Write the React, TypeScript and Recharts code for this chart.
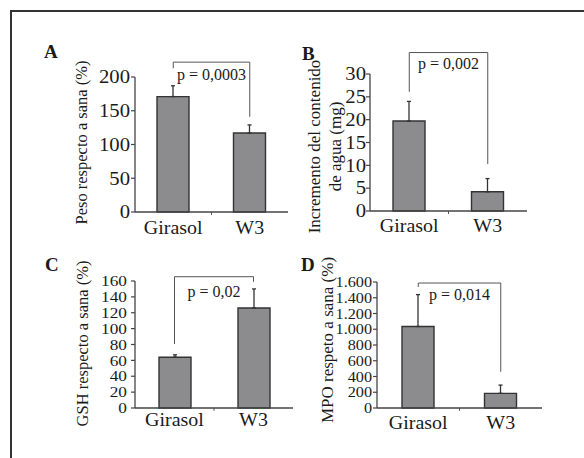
import React from 'react';
import { BarChart, Bar, XAxis, YAxis, ErrorBar, ReferenceLine, Label } from 'recharts';

const categories = ['Girasol', 'W3'];

// A - peso
const pesoMean = [171, 117];
const pesoErr = [16, 12];
const pesoTicks = [0, 50, 100, 150, 200];
const pesoBracket = [213, 222, 141];

// B - agua
const aguaMean = [19.7, 4.2];
const aguaErr = [4.3, 2.9];
const aguaTicks = [0, 5, 10, 15, 20, 25, 30];
const aguaBracket = [26.1, 34.7, 10.3];

// C - GSH
const gshMean = [64, 126];
const gshErr = [3, 24];
const gshTicks = [0, 20, 40, 60, 80, 100, 120, 140, 160];
const gshBracket = [80.6, 165.4, 159];

// D - MPO
const mpoMean = [1035, 186];
const mpoErr = [405, 105];
const mpoTicks = [0, 200, 400, 600, 800, 1000, 1200, 1400, 1600];
const mpoBracket = [1537, 1587, 460];

const pValues = ['p = 0,0003', 'p = 0,002', 'p = 0,02', 'p = 0,014'];

const FONT = '"Liberation Serif", "Times New Roman", serif';
const INK = '#1a1a1a';
const AXIS = '#444';

const thousands = (v: number) =>
  v >= 1000 ? `${Math.floor(v / 1000)}.${String(v % 1000).padStart(3, '0')}` : String(v);

function StretchText({ x, y, text, size, sx, anchor, dy }: any) {
  return (
    <text
      x={x}
      y={y}
      dy={dy}
      textAnchor={anchor}
      fontSize={size}
      fontFamily={FONT}
      fill={INK}
      transform={`translate(${x} ${y}) scale(${sx} 1) translate(${-x} ${-y})`}
    >
      {text}
    </text>
  );
}

function Panel(props: any) {
  const { box, margin, mean, err, ticks, bracket, pLabel, pOffset, yLabels, yLabelSize,
    yFont, ySx, yMargin, catMargin, fmt } = props;
  const data = categories.map((name, i) => ({ name, value: mean[i], err: [0, err[i]] }));
  const yMax = ticks[ticks.length - 1];
  const drop = yMax * 0.022;
  const lineStyle = { stroke: '#555', strokeWidth: 1 };

  return (
    <div style={{ position: 'absolute', left: box.left, top: box.top }}>
      <BarChart width={box.width} height={box.height} data={data} margin={margin}>
        <XAxis
          dataKey="name"
          height={30}
          interval={0}
          tickLine={false}
          tickSize={0}
          tickMargin={catMargin}
          axisLine={{ stroke: AXIS, strokeWidth: 1.3 }}
          tick={(p: any) => (
            <StretchText x={p.x} y={p.y} text={p.payload.value} size={18.5} sx={1.08} anchor="middle" dy="0.71em" />
          )}
        />
        <YAxis
          type="number"
          width={60}
          domain={[0, yMax]}
          ticks={ticks}
          interval={0}
          tickSize={4}
          tickMargin={yMargin}
          axisLine={{ stroke: AXIS, strokeWidth: 1.3 }}
          tickLine={{ stroke: AXIS, strokeWidth: 1.2 }}
          tick={(p: any) => (
            <StretchText x={p.x} y={p.y} text={fmt ? fmt(p.payload.value) : p.payload.value}
              size={yFont} sx={ySx} anchor="end" dy="0.35em" />
          )}
        >
          {yLabels.map((l: any) => (
            <Label key={l.text} value={l.text} angle={-90} position="center" dx={l.dx} dy={l.dy}
              fontSize={yLabelSize} fontFamily={FONT} fill={INK} />
          ))}
        </YAxis>
        <Bar dataKey="value" fill="#8c8c8e" stroke="#333" strokeWidth={1.4} barSize={32}
          isAnimationActive={false}>
          <ErrorBar dataKey="err" direction="y" width={2} stroke="#333" strokeWidth={1.3} />
        </Bar>
        <ReferenceLine ifOverflow="visible" {...lineStyle}
          segment={[{ x: 'W3', y: 0 }, { x: 'W3', y: -drop }]} position="start" />
        <ReferenceLine ifOverflow="visible" {...lineStyle}
          segment={[{ x: 'Girasol', y: bracket[0] }, { x: 'Girasol', y: bracket[1] }]} />
        <ReferenceLine ifOverflow="visible" {...lineStyle}
          segment={[{ x: 'Girasol', y: bracket[1] }, { x: 'W3', y: bracket[1] }]}>
          <Label value={pLabel} position="bottom" offset={pOffset} fontSize={16} fontFamily={FONT} fill={INK} />
        </ReferenceLine>
        <ReferenceLine ifOverflow="visible" {...lineStyle}
          segment={[{ x: 'W3', y: bracket[1] }, { x: 'W3', y: bracket[2] }]} />
      </BarChart>
    </div>
  );
}

export default function App() {
  return (
    <div style={{ position: 'absolute', left: 0, top: 0, width: 584, height: 458, background: '#fff', overflow: 'hidden' }}>
      <div style={{ position: 'absolute', left: 10, top: 10, right: 0, bottom: 0,
        borderTop: '2px solid #333', borderLeft: '2px solid #333' }} />
      <svg width={584} height={458} style={{ position: 'absolute', left: 0, top: 0 }}>
        <g fontFamily={FONT} fontWeight="bold" fontSize={19} fill={INK}>
          <text x={44} y={58}>A</text>
          <text x={302} y={60}>B</text>
          <text x={45} y={271}>C</text>
          <text x={301} y={271}>D</text>
        </g>
      </svg>
      <Panel
        box={{ left: 0, top: 20, width: 300, height: 230 }}
        margin={{ top: 57, right: 12, bottom: 8, left: 75 }}
        mean={pesoMean} err={pesoErr} ticks={pesoTicks} bracket={pesoBracket}
        pLabel={pValues[0]} pOffset={6}
        yLabels={[{ text: 'Peso respecto a sana (%)', dx: -24, dy: -2 }]} yLabelSize={16.5}
        yFont={18} ySx={1.15} yMargin={1} catMargin={9}
      />
      <Panel
        box={{ left: 292, top: 20, width: 292, height: 230 }}
        margin={{ top: 54, right: 57, bottom: 9, left: 18 }}
        mean={aguaMean} err={aguaErr} ticks={aguaTicks} bracket={aguaBracket}
        pLabel={pValues[1]} pOffset={5}
        yLabels={[
          { text: 'Incremento del contenido', dx: -26, dy: 4 },
          { text: 'de agua (mg)', dx: -5, dy: 4 },
        ]} yLabelSize={17}
        yFont={18} ySx={1.15} yMargin={0} catMargin={8}
      />
      <Panel
        box={{ left: 0, top: 240, width: 300, height: 218 }}
        margin={{ top: 41, right: 7, bottom: 20, left: 75 }}
        mean={gshMean} err={gshErr} ticks={gshTicks} bracket={gshBracket}
        pLabel={pValues[2]} pOffset={9}
        yLabels={[{ text: 'GSH respecto a sana (%)', dx: -22.5, dy: -1 }]} yLabelSize={16.5}
        yFont={15} ySx={1.15} yMargin={4} catMargin={5}
      />
      <Panel
        box={{ left: 292, top: 240, width: 292, height: 218 }}
        margin={{ top: 42, right: 42, bottom: 20, left: 25 }}
        mean={mpoMean} err={mpoErr} ticks={mpoTicks} bracket={mpoBracket}
        pLabel={pValues[3]} pOffset={6}
        yLabels={[{ text: 'MPO respeto a sana (%)', dx: -20, dy: -5 }]} yLabelSize={17}
        yFont={15} ySx={1.08} yMargin={1} catMargin={8} fmt={thousands}
      />
    </div>
  );
}
